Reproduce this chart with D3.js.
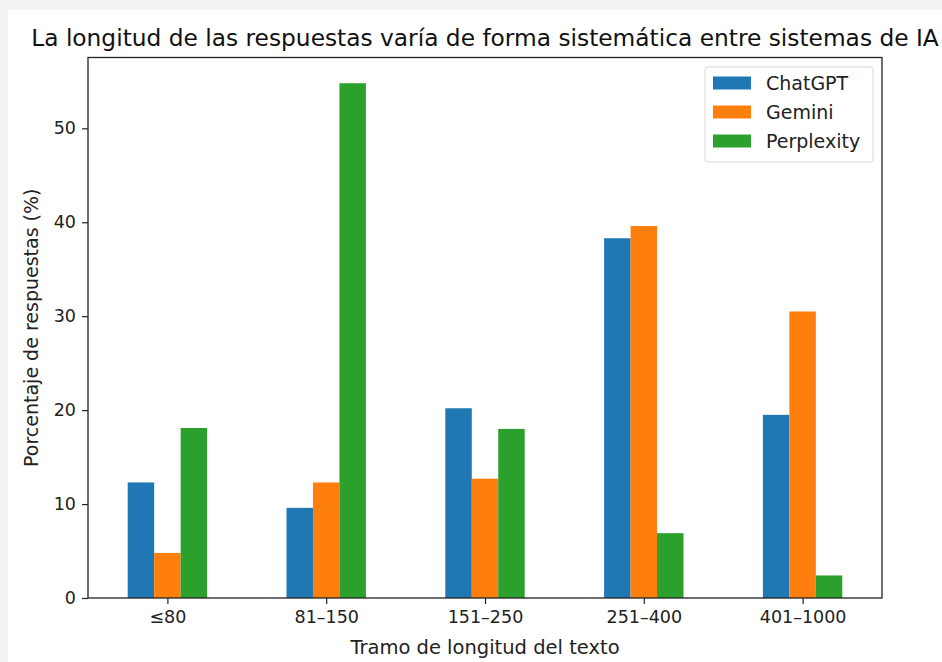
<!DOCTYPE html>
<html><head><meta charset="utf-8">
<script src="https://cdn.jsdelivr.net/npm/d3@7"></script>
<style>
html,body{margin:0;padding:0;background:#f3f3f2;}
svg{display:block;font-family:"DejaVu Sans",sans-serif;}
</style></head>
<body>
<svg id="chart" width="942" height="662"></svg>
<script>
const categories = ["≤80", "81–150", "151–250", "251–400", "401–1000"];
const seriesNames = ["ChatGPT", "Gemini", "Perplexity"];
const chatgpt = [12.3, 9.6, 20.2, 38.3, 19.5];
const gemini = [4.8, 12.3, 12.7, 39.6, 30.5];
const perplexity = [18.1, 54.8, 18.0, 6.9, 2.4];
const yTicks = [0, 10, 20, 30, 40, 50];
const colors = ["#1f77b4", "#ff7f0e", "#2ca02c"];
const title = "La longitud de las respuestas varía de forma sistemática entre sistemas de IA";
const xLabel = "Tramo de longitud del texto";
const yLabel = "Porcentaje de respuestas (%)";

const series = [chatgpt, gemini, perplexity];
const svg = d3.select("#chart");
const W = 942, H = 662;
const m = {left: 88, right: 882, top: 57.5, bottom: 598};

svg.append("rect").attr("x", 8).attr("y", 10).attr("width", W - 8).attr("height", H - 10).attr("fill", "#ffffff");

const maxV = d3.max(series.flat());
const y = d3.scaleLinear().domain([0, maxV * 1.05]).range([m.bottom, m.top]);
const x = d3.scaleLinear().domain([-0.5, categories.length - 0.5]).range([m.left, m.right]);
const barW = 0.5 / series.length;

const g = svg.append("g");
series.forEach((vals, si) => {
  g.selectAll(null).data(vals).enter().append("rect")
    .attr("x", (d, i) => x(i - 0.25 + si * barW))
    .attr("width", x(barW) - x(0))
    .attr("y", d => y(d))
    .attr("height", d => y(0) - y(d))
    .attr("fill", colors[si]);
});

// axes
const yAxis = d3.axisLeft(y).tickValues(yTicks).tickSize(6).tickPadding(6).tickFormat(d3.format("d"));
const ya = svg.append("g").attr("transform", `translate(${m.left},0)`).call(yAxis);
const xAxis = d3.axisBottom(x).tickValues(d3.range(categories.length)).tickSize(6).tickPadding(7).tickFormat(i => categories[i]);
const xa = svg.append("g").attr("transform", `translate(0,${m.bottom})`).call(xAxis);
[ya, xa].forEach(a => {
  a.select(".domain").remove();
  a.selectAll("line").attr("stroke", "#222").attr("stroke-width", 1.2);
  a.selectAll("text").attr("fill", "#222").style("font-size", "17.5px").style("font-family", "DejaVu Sans");
});

// frame
svg.append("rect").attr("x", m.left).attr("y", m.top).attr("width", m.right - m.left).attr("height", m.bottom - m.top)
  .attr("fill", "none").attr("stroke", "#222").attr("stroke-width", 1.3);

// title & labels
svg.append("text").attr("x", (m.left + m.right) / 2).attr("y", 46).attr("text-anchor", "middle")
  .style("font-size", "23.3px").attr("fill", "#111").text(title);
svg.append("text").attr("x", (m.left + m.right) / 2).attr("y", 654).attr("text-anchor", "middle")
  .style("font-size", "19.5px").attr("fill", "#222").text(xLabel);
svg.append("text").attr("transform", `translate(38,${(m.top + m.bottom) / 2}) rotate(-90)`).attr("text-anchor", "middle")
  .style("font-size", "19px").attr("fill", "#222").text(yLabel);

// legend
const lg = svg.append("g").attr("transform", "translate(705,67)");
lg.append("rect").attr("x", 0).attr("y", 0).attr("width", 168).attr("height", 95).attr("rx", 3)
  .attr("fill", "#fff").attr("fill-opacity", 0.8).attr("stroke", "#d8d8d8").attr("stroke-width", 1);
seriesNames.forEach((n, i) => {
  const cy = 16 + i * 29;
  lg.append("rect").attr("x", 8).attr("y", cy - 6.5).attr("width", 38).attr("height", 13).attr("fill", colors[i]);
  lg.append("text").attr("x", 61).attr("y", cy + 7).style("font-size", "19px")
    .attr("fill", "#222").text(n);
});
</script>
</body></html>
